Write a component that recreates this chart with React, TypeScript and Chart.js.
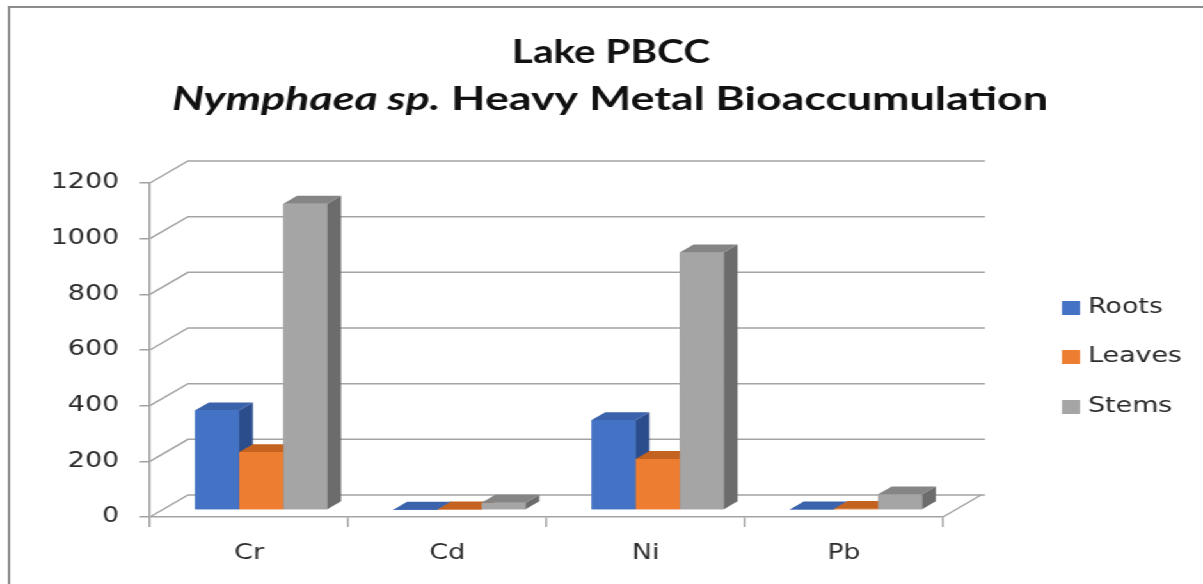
import React, { useEffect, useRef } from 'react';
import { Chart, registerables } from 'chart.js';

Chart.register(...registerables);

// ---- data ----
const categories = ['Cr', 'Cd', 'Ni', 'Pb'];
const seriesNames = ['Roots', 'Leaves', 'Stems'];
const rootsValues = [358, 1, 323, 2];
const leavesValues = [208, 2, 183, 4];
const stemsValues = [1100, 26, 925, 56];
const yTickValues = [0, 200, 400, 600, 800, 1000, 1200];
const titleLine1 = 'Lake PBCC';
const titleItalic = 'Nymphaea sp.';
const titleRest = ' Heavy Metal Bioaccumulation';

// ---- styles ----
const frontColors = ['#4472C4', '#ED7D31', '#A5A5A5'];
const topColors = ['#3a63ab', '#c4621f', '#858585'];
const sideColors = ['#2c4d8c', '#b0571b', '#6c6c6c'];
const GRID = '#a3a3a3';
const LABEL = '#2b2b2b';

// the reference is horizontally stretched; draw on a narrower canvas and stretch it
const CANVAS_W = 940;
const CANVAS_H = 584;
const SX = 1203 / CANVAS_W;
const px = (refX: number) => refX / SX;

const PLOT_LEFT = px(150);
const PLOT_RIGHT = px(943);
const PLOT_TOP = 183;
const PLOT_BOTTOM = 517;
const DEPTH_X = px(38);
const DEPTH_Y = -22;
const WALL_EXTRA = px(4);
const BAR_FRONT = 0.32;
const BAR_DEPTH = 0.36;

const threeDPlugin = {
  id: 'threeD',
  beforeDatasetsDraw(chart: any) {
    const ctx = chart.ctx as CanvasRenderingContext2D;
    const { left, right, bottom } = chart.chartArea;
    const ys = chart.scales.y;
    ctx.save();
    ctx.strokeStyle = GRID;
    ctx.lineWidth = 1.5;
    for (const t of ys.ticks) {
      const yf = ys.getPixelForValue(t.value);
      ctx.beginPath();
      ctx.moveTo(left, yf);
      ctx.lineTo(left + DEPTH_X, yf + DEPTH_Y);
      ctx.lineTo(right + DEPTH_X + WALL_EXTRA, yf + DEPTH_Y);
      ctx.stroke();
    }
    ctx.beginPath();
    ctx.moveTo(right, bottom);
    ctx.lineTo(right + DEPTH_X, bottom + DEPTH_Y);
    ctx.stroke();
    ctx.restore();
    ctx.save();
    ctx.translate(DEPTH_X * BAR_FRONT, DEPTH_Y * BAR_FRONT);
  },
  afterDatasetsDraw(chart: any) {
    const ctx = chart.ctx as CanvasRenderingContext2D;
    const bdx = DEPTH_X * BAR_DEPTH;
    const bdy = DEPTH_Y * BAR_DEPTH;
    chart.data.datasets.forEach((_ds: any, d: number) => {
      const meta = chart.getDatasetMeta(d);
      meta.data.forEach((el: any) => {
        const { x, y, base, width } = el.getProps(['x', 'y', 'base', 'width'], true);
        const l = x - width / 2;
        const r = x + width / 2;
        el.draw(ctx);
        ctx.fillStyle = sideColors[d];
        ctx.beginPath();
        ctx.moveTo(r, y);
        ctx.lineTo(r + bdx, y + bdy);
        ctx.lineTo(r + bdx, base + bdy);
        ctx.lineTo(r, base);
        ctx.closePath();
        ctx.fill();
        ctx.fillStyle = topColors[d];
        ctx.beginPath();
        ctx.moveTo(l, y);
        ctx.lineTo(r, y);
        ctx.lineTo(r + bdx, y + bdy);
        ctx.lineTo(l + bdx, y + bdy);
        ctx.closePath();
        ctx.fill();
      });
    });
    ctx.restore();
  },
};

const decorPlugin = {
  id: 'decor',
  afterDraw(chart: any) {
    const ctx = chart.ctx as CanvasRenderingContext2D;
    ctx.save();
    // frame
    ctx.strokeStyle = '#8c8c8c';
    ctx.lineWidth = 2;
    ctx.strokeRect(px(9), 7, 3000, 3000);

    // title
    const size = 33;
    ctx.fillStyle = '#111';
    ctx.textBaseline = 'alphabetic';
    ctx.textAlign = 'left';
    ctx.font = `italic bold ${size}px Lato`;
    const wi = ctx.measureText(titleItalic).width;
    ctx.font = `bold ${size}px Lato`;
    const wr = ctx.measureText(titleRest).width;
    const w1 = ctx.measureText(titleLine1).width;
    const s2 = px(876) / (wi + wr);
    const s1 = px(198) / w1;

    ctx.save();
    ctx.translate(px(611), 63);
    ctx.scale(s1, 1);
    ctx.fillText(titleLine1, -w1 / 2, 0);
    ctx.restore();

    ctx.save();
    ctx.translate(px(610), 110);
    ctx.scale(s2, 1);
    const start = -(wi + wr) / 2;
    ctx.font = `italic bold ${size}px Lato`;
    ctx.fillText(titleItalic, start, 0);
    ctx.font = `bold ${size}px Lato`;
    ctx.fillText(titleRest, start + wi, 0);
    ctx.restore();

    // legend
    const legendY = [308, 357, 407];
    ctx.font = '21px "DejaVu Sans"';
    ctx.textBaseline = 'middle';
    seriesNames.forEach((name, i) => {
      ctx.fillStyle = frontColors[i];
      ctx.fillRect(px(1062), legendY[i] - 7, px(1080) - px(1062), 14);
      ctx.fillStyle = LABEL;
      ctx.fillText(name, px(1088), legendY[i]);
    });
    ctx.restore();
  },
};

export default function App() {
  const ref = useRef<HTMLCanvasElement>(null);
  useEffect(() => {
    const canvas = ref.current;
    if (!canvas) return;
    const seriesValues = [rootsValues, leavesValues, stemsValues];
    const chart = new Chart(canvas, {
      type: 'bar',
      data: {
        labels: categories,
        datasets: seriesNames.map((name, i) => ({
          label: name,
          data: seriesValues[i],
          backgroundColor: frontColors[i],
          borderWidth: 0,
          categoryPercentage: 0.667,
          barPercentage: 1.0,
        })),
      },
      options: {
        responsive: false,
        animation: false,
        devicePixelRatio: 1,
        events: [],
        layout: { padding: { left: 0, top: PLOT_TOP, right: CANVAS_W - PLOT_RIGHT, bottom: 0 } },
        plugins: {
          legend: { display: false },
          title: { display: false },
          tooltip: { enabled: false },
        },
        scales: {
          x: {
            type: 'category',
            offset: true,
            grid: { offset: true, drawOnChartArea: false, drawTicks: true, tickLength: 10, color: GRID, lineWidth: 1.5 },
            border: { display: true, color: GRID, width: 1.5 },
            ticks: { font: { family: 'DejaVu Sans', size: 21 }, color: LABEL, padding: 14, maxRotation: 0, autoSkip: false },
            afterFit: (s: any) => { s.height = CANVAS_H - PLOT_BOTTOM; },
          },
          y: {
            min: 0,
            max: 1200,
            afterBuildTicks: (s: any) => { s.ticks = yTickValues.map((v) => ({ value: v })); },
            grid: { drawOnChartArea: false, drawTicks: true, tickLength: 8, color: GRID, lineWidth: 1.5 },
            border: { display: true, color: GRID, width: 1.5 },
            ticks: { font: { family: 'DejaVu Sans', size: 21 }, color: LABEL, padding: 16, callback: (v: any) => `${v}` },
            afterFit: (s: any) => { s.width = PLOT_LEFT; },
          },
        },
      },
      plugins: [threeDPlugin, decorPlugin],
    } as any);
    return () => chart.destroy();
  }, []);

  return (
    <div
      style={{
        position: 'fixed',
        left: 0,
        top: 0,
        width: CANVAS_W,
        height: CANVAS_H,
        transform: `scaleX(${SX})`,
        transformOrigin: '0 0',
        background: '#fff',
      }}
    >
      <canvas ref={ref} width={CANVAS_W} height={CANVAS_H} style={{ display: 'block', width: CANVAS_W, height: CANVAS_H }} />
    </div>
  );
}
